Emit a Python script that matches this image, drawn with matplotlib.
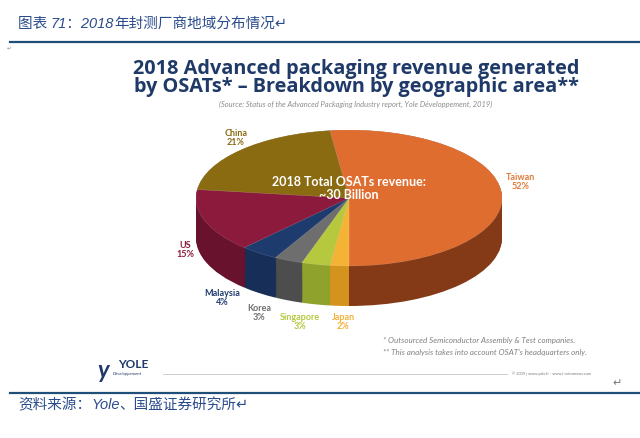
import matplotlib
matplotlib.use("Agg")
import matplotlib.pyplot as plt

# data
regions = ['Taiwan', 'Japan', 'Singapore', 'Korea', 'Malaysia', 'US', 'China']
shares = [52, 2, 3, 3, 4, 15, 21]
top_colors = ['#DF6D30', '#F4B335', '#B6C83E', '#6E6E6E', '#1E3B6E', '#8C1A3C', '#8A6B12']
side_colors = ['#843A16', '#D4921E', '#8FA22B', '#4D4D4D', '#162E58', '#68122E', '#6A520E']
label_colors = ['#E07A3A', '#F2B13A', '#B6C83E', '#6E6E6E', '#1E3B6E', '#8C1A3C', '#8A6B12']
label_pos = {'Taiwan': (521, 182), 'Japan': (343, 322), 'Singapore': (300, 322),
             'Korea': (259, 313), 'Malaysia': (222, 298), 'US': (185, 250),
             'China': (236, 138)}

W, H = 640, 438
fig = plt.figure(figsize=(6.4, 4.38), dpi=100)
fig.patch.set_facecolor('white')

# overlay axes in pixel coordinates
ax0 = fig.add_axes([0, 0, 1, 1])
ax0.set_xlim(0, W)
ax0.set_ylim(H, 0)
ax0.axis('off')

navy = '#1F3A68'
blue = '#2B4C8C'
cjk = ['Noto Sans CJK SC', 'DejaVu Sans']
latin_it = ['Liberation Sans', 'Noto Sans CJK SC']

# header
t1 = ax0.text(18, 24, '图表 ', fontsize=10.5, color=blue, family=cjk, va='center')
t2 = ax0.annotate('71：2018', xy=(1, 0.5), xycoords=t1, fontsize=10.5, color=blue,
                  family=latin_it, style='italic', va='center')
ax0.annotate('年封测厂商地域分布情况↵', xy=(1, 0.5), xycoords=t2, fontsize=10.5,
             color=blue, family=cjk, va='center')
ax0.plot([10, 640], [42, 42], color='#1F4E79', lw=1.6)
ax0.text(7, 49, '↵', fontsize=4, color='#999999', family=cjk, va='center')

# title
ax0.text(356, 78, '2018 Advanced packaging revenue generated\nby OSATs* – Breakdown by geographic area**',
         fontsize=14.3, fontweight='bold', family='Open Sans', color=navy, ha='center', va='center',
         linespacing=0.88)
ax0.text(356, 104, '(Source: Status of the Advanced Packaging Industry report, Yole Développement, 2019)',
         fontsize=5.4, style='italic', family='Lato', color='#8C8C8C', ha='center', va='center')

# pie axes: ellipse top face centre (349,198), radii 153 x 68 px, depth 40 px
cx, cy, rx, ry, depth = 349, 198, 153, 68, 40
d = depth / ry
axp = fig.add_axes([(cx - rx) / W, (H - (cy + ry + depth)) / H,
                    2 * rx / W, (2 * ry + depth) / H])
axp.axis('off')

n_layers = 40
for k in range(n_layers):
    off = -d + d * k / (n_layers - 1)
    axp.pie(shares, colors=side_colors, startangle=97.2, counterclock=False,
            center=(0, off), radius=1, wedgeprops=dict(linewidth=0))
axp.pie(shares, colors=top_colors, startangle=97.2, counterclock=False,
        center=(0, 0), radius=1, wedgeprops=dict(linewidth=0.3, edgecolor='#ffffff40'))
axp.set_aspect('auto')
axp.set_xlim(-1, 1)
axp.set_ylim(-1 - d, 1)

axp.text(0, 0.14, '2018 Total OSATs revenue:\n~30 Billion', color='white', fontsize=9,
         fontweight='bold', family='Lato', ha='center', va='center', linespacing=1.15)

# slice labels
for name, val, col in zip(regions, shares, label_colors):
    x, y = label_pos[name]
    ax0.text(x, y, f'{name}\n{val}%', color=col, fontsize=6.5, fontweight='bold',
             family='Lato', ha='center', va='center', linespacing=1.1)

# footnotes
ax0.text(383, 341, '* Outsourced Semiconductor Assembly & Test companies.', fontsize=5.8,
         style='italic', family='Lato', color='#808080', va='center')
ax0.text(383, 352, "** This analysis takes into account OSAT's headquarters only.", fontsize=5.8,
         style='italic', family='Lato', color='#808080', va='center')

# logo and footer line
ax0.text(103, 371, 'y', fontsize=17, style='italic', fontweight='bold', family='Lato',
         color=navy, ha='center', va='center')
ax0.text(118, 364, 'YOLE', fontsize=8.5, fontweight='bold', family='Lato', color=navy,
         va='center')
ax0.text(113, 374, 'Développement', fontsize=3.2, style='italic', family='Lato',
         color=navy, va='center')
ax0.plot([163, 507], [374, 374], color='#BBBBBB', lw=0.5)
ax0.text(512, 374, '© 2019 | www.yole.fr - www.i-micronews.com', fontsize=2.8,
         family='Lato', color='#777777', va='center')
ax0.text(612, 383, '↵', fontsize=8, color='#777777', family=cjk, va='center')

# bottom rule and source
ax0.plot([10, 640], [393, 393], color='#1F4E79', lw=1.6)
s1 = ax0.text(18, 405, '资料来源：', fontsize=10.5, color=blue, family=cjk, va='center')
s2 = ax0.annotate('Yole', xy=(1, 0.5), xycoords=s1, fontsize=10.5, color=blue,
                  family=latin_it, style='italic', va='center')
ax0.annotate('、国盛证券研究所↵', xy=(1, 0.5), xycoords=s2, fontsize=10.5,
             color=blue, family=cjk, va='center')

fig.savefig('out.png', dpi=100)
